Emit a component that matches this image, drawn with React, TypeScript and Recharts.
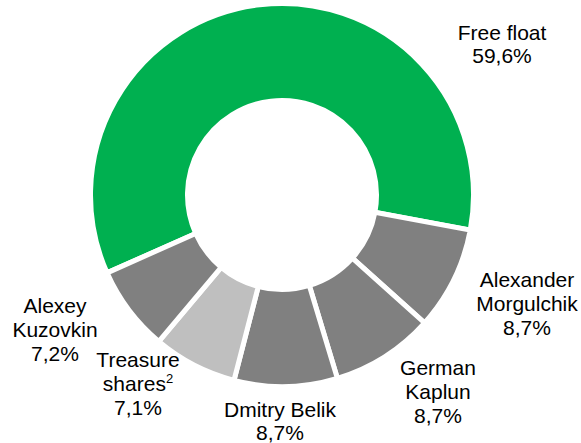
import { PieChart, Pie, Cell } from "recharts";

const holders = ["Free float", "Alexander Morgulchik", "German Kaplun", "Dmitry Belik", "Treasure shares", "Alexey Kuzovkin"];
const shares = [59.6, 8.7, 8.7, 8.7, 7.1, 7.2];
const shareLabels = ["59,6%", "8,7%", "8,7%", "8,7%", "7,1%", "7,2%"];
const labelLines = [
  ["Free float"],
  ["Alexander", "Morgulchik"],
  ["German", "Kaplun"],
  ["Dmitry Belik"],
  ["Treasure", "shares"],
  ["Alexey", "Kuzovkin"],
];

const COLORS = ["#00B050", "#808080", "#808080", "#808080", "#BFBFBF", "#808080"];

// label placement (offset of first baseline from the pie centre), taken from the layout
const LABEL_POS = [
  { dx: 220, dy: -155, lh: 23 },
  { dx: 245, dy: 92, lh: 24 },
  { dx: 156, dy: 180, lh: 24 },
  { dx: -2, dy: 222, lh: 23 },
  { dx: -144, dy: 172, lh: 24 },
  { dx: -227, dy: 118, lh: 24 },
];

const data = holders.map((name, i) => ({ name, value: shares[i] }));

const renderLabel = (props: any) => {
  const { cx, cy, index } = props;
  const pos = LABEL_POS[index];
  const x = cx + pos.dx;
  const lines = labelLines[index];
  const y0 = cy + pos.dy;
  return (
    <text
      x={x}
      y={y0}
      textAnchor="middle"
      fill="#000"
      fontSize={21}
      fontFamily="'Liberation Sans', Arial, sans-serif"
    >
      {lines.map((l, k) => (
        <tspan key={k} x={x} y={y0 + k * pos.lh}>
          {l}
          {index === 4 && k === 1 ? (
            <tspan fontSize={13} dy={-8}>2</tspan>
          ) : null}
        </tspan>
      ))}
      <tspan x={x} y={y0 + lines.length * pos.lh}>
        {shareLabels[index]}
      </tspan>
    </text>
  );
};

export default function App() {
  return (
    <div style={{ position: "absolute", left: 0, top: 0, background: "#fff" }}>
      <PieChart width={581} height={443} margin={{ top: 0, right: 0, bottom: 0, left: 0 }}>
        <Pie
          data={data}
          dataKey="value"
          cx={282}
          cy={195}
          startAngle={204}
          endAngle={-156}
          innerRadius={94.5}
          outerRadius={191.5}
          paddingAngle={0}
          stroke="#fff"
          strokeWidth={5}
          label={renderLabel}
          labelLine={false}
          isAnimationActive={false}
        >
          {data.map((d, i) => (
            <Cell key={d.name} fill={COLORS[i]} />
          ))}
        </Pie>
      </PieChart>
    </div>
  );
}
